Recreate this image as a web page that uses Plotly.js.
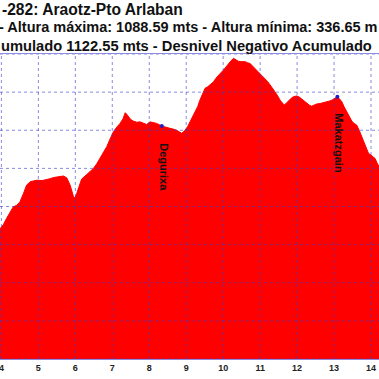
<!DOCTYPE html>
<html><head><meta charset="utf-8">
<script src="https://cdn.plot.ly/plotly-3.0.1.min.js"></script>
<style>html,body{margin:0;padding:0;overflow:hidden;background:#fff}#chart{width:379px;height:379px}</style>
</head><body><div id="chart"></div>
<script>
const distanceKm = [3.95,4.05,4.14,4.23,4.32,4.41,4.50,4.60,4.68,4.78,4.87,4.96,5.10,5.23,5.32,5.41,5.55,5.68,5.77,5.86,5.95,5.99,6.04,6.08,6.17,6.31,6.40,6.49,6.58,6.67,6.76,6.85,6.94,7.03,7.12,7.21,7.29,7.35,7.39,7.44,7.50,7.57,7.66,7.75,7.84,7.93,8.02,8.11,8.20,8.34,8.45,8.56,8.65,8.74,8.88,8.97,9.04,9.10,9.17,9.24,9.31,9.37,9.44,9.51,9.58,9.65,9.74,9.80,9.87,9.94,10.01,10.07,10.14,10.21,10.28,10.34,10.41,10.50,10.59,10.66,10.73,10.80,10.86,10.93,11.00,11.07,11.13,11.20,11.27,11.34,11.40,11.47,11.54,11.60,11.65,11.70,11.76,11.83,11.90,11.99,12.06,12.12,12.19,12.26,12.33,12.39,12.46,12.53,12.62,12.71,12.80,12.89,12.96,13.03,13.09,13.15,13.21,13.27,13.34,13.41,13.48,13.54,13.61,13.68,13.75,13.81,13.88,13.93,13.97,14.04,14.11,14.16,14.22];
const elevationM = [640,652,669,684,699,703,712,735,756,765,767,769,768,770,773,776,779,780,775,756,726,722,735,747,772,784,791,800,812,826,840,857,877,896,908,918,930,946,942,935,928,924,921,922,918,915,922,919,918,911,909,905,903,900,892,900,910,922,935,949,962,979,995,1010,1014,1019,1027,1036,1045,1051,1058,1066,1075,1082,1088.59,1084,1081,1080,1080,1077,1075,1068,1062,1056,1049,1043,1036,1028,1019,1010,1001,991,979,972,966,970,977,983,988,990,987,982,976,970,966,963,966,969,970,972,974,977,980,984,988,982,975,962,949,936,924,918,914,900,883,866,848,840,837,831,826,815,804];
const peakNames = ['Degurixa', 'Makatzgain'];
const peakKm = [8.34, 13.09];
const peakElev = [911, 988];
const titleLines = [
  '-282: Araotz-Pto Arlaban',
  '- Altura máxima: 1088.59 mts - Altura mínima: 336.65 m',
  'umulado 1122.55 mts - Desnivel Negativo Acumulado'
];
const xTickValues = [4,5,6,7,8,9,10,11,12,13,14];
const xTickLabels = ['4','5','6','7','8','9','10','11','12','13','14'];
const yGridValues = [300,400,500,600,700,800,900,1000,1100];

const W = 379, H = 379, T = 54, B = 20;
const plotH = H - T - B;
const font = 'Arial, "Liberation Sans", sans-serif';
const gridLine = {color: 'rgba(60,60,200,0.6)', width: 1, dash: 'dot'};

const shapes = [];
xTickValues.forEach(v => shapes.push({type:'line', xref:'x', yref:'paper', x0:v, x1:v, y0:0, y1:1, layer:'above', line:gridLine}));
yGridValues.forEach(v => shapes.push({type:'line', xref:'paper', yref:'y', x0:0, x1:1, y0:v, y1:v, layer:'above', line:gridLine}));

const titleX = [0, -3, -1];
const titleY = [9.5, 27.5, 46];
const titleSize = [15.6, 14.5, 14.7];
const annotations = titleLines.map((t, i) => ({
  text: t, xref:'paper', yref:'paper', x: titleX[i] / W, y: (H - B - titleY[i]) / plotH,
  xanchor:'left', yanchor:'middle', showarrow:false,
  font:{family:font, size:titleSize[i], color:'#111', weight:'bold'}
}));
peakNames.forEach((n, i) => annotations.push({
  text: n, x: peakKm[i], y: peakElev[i], xref:'x', yref:'y', showarrow:false,
  textangle: 90, xanchor:'center', yanchor:'top', yshift:-15, xshift:2,
  font:{family:font, size:11, color:'#111', weight:'bold'}
}));

const traces = [
  {x: distanceKm, y: elevationM, type:'scatter', mode:'lines', fill:'tozeroy',
   fillcolor:'#ff0000', line:{color:'#ff0000', width:1}, hoverinfo:'skip'},
  {x: peakKm, y: peakElev, type:'scatter', mode:'markers',
   marker:{color:'#2020c0', size:4}, hoverinfo:'skip'}
];

const layout = {
  width: W, height: H,
  margin: {l:0, r:0, t:T, b:B, pad:0},
  paper_bgcolor:'#fff', plot_bgcolor:'#fff',
  showlegend:false,
  xaxis: {range:[3.962, 14.216], tickvals:xTickValues, ticktext:xTickLabels, showgrid:false, zeroline:false,
          showline:true, mirror:true, linecolor:'rgba(110,110,220,0.8)', linewidth:1, layer:'above traces',
          ticks:'', ticklabeloverflow:'allow',
          tickfont:{family:font, size:9, color:'#222', weight:'bold'}},
  yaxis: {range:[300, 1100], showgrid:false, zeroline:false, showticklabels:false, ticks:''},
  shapes: shapes,
  annotations: annotations
};

Plotly.newPlot('chart', traces, layout, {displayModeBar:false, staticPlot:true});
</script>
</body></html>
